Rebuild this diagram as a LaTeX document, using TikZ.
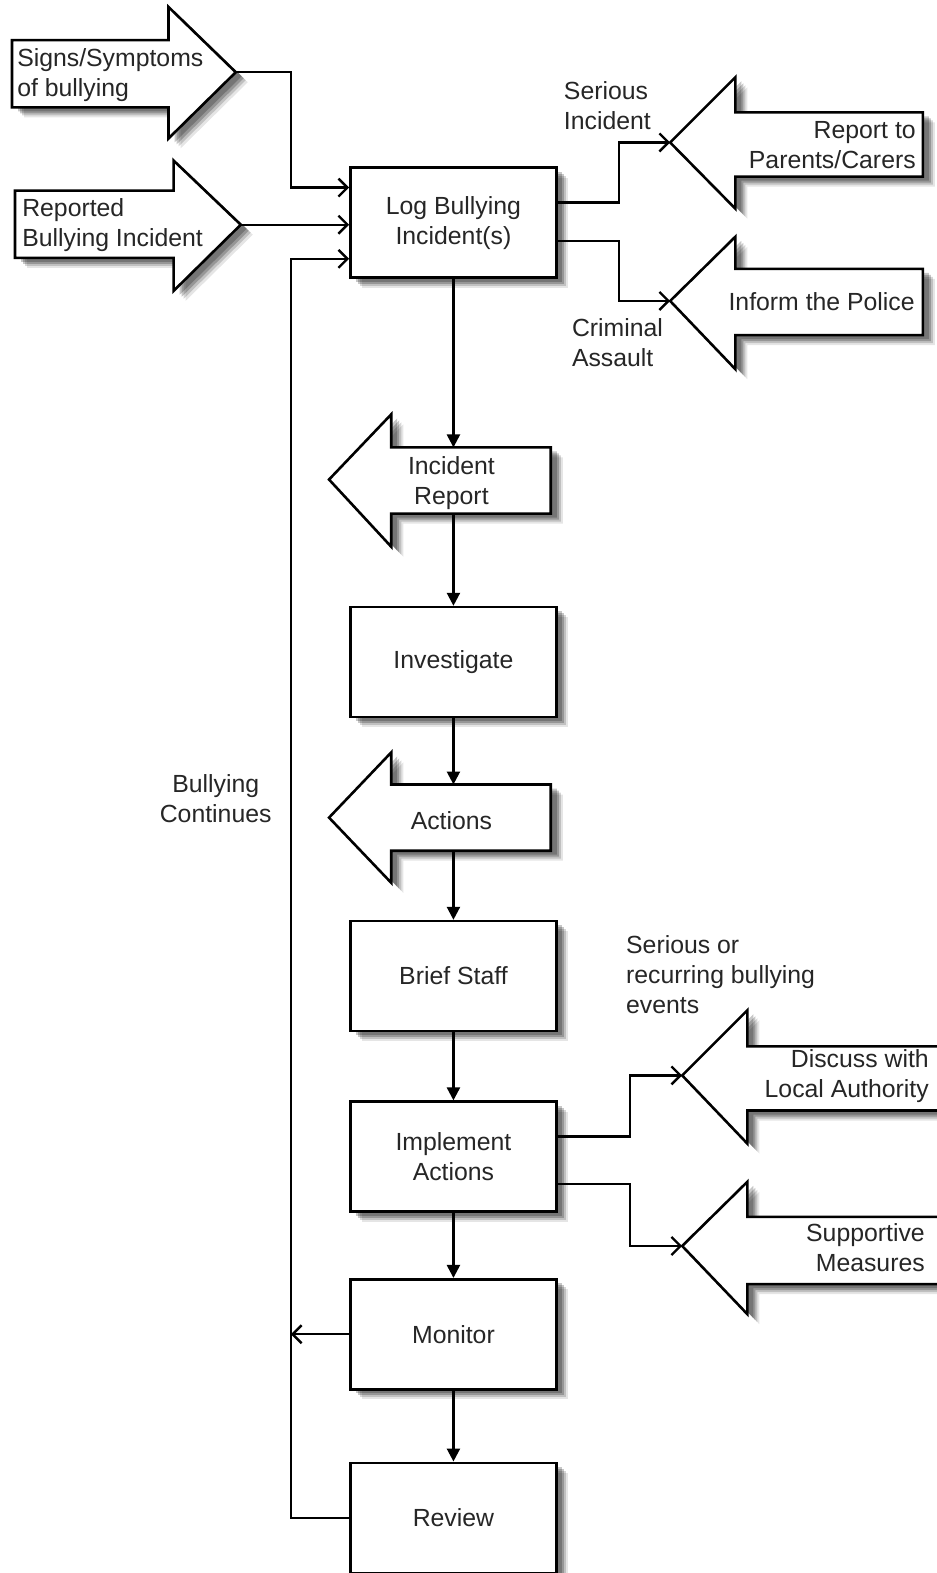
\documentclass[tikz,border=0pt]{standalone}
\usepackage{fontspec}
\setmainfont{Liberation Sans}
\usetikzlibrary{arrows.meta,shadows}
\definecolor{txt}{HTML}{262626}
\tikzset{
  shd/.style={drop shadow={shadow xshift=12pt,shadow yshift=-10pt,fill=black,opacity=0.10},
              drop shadow={shadow xshift=10pt,shadow yshift=-8pt,fill=black,opacity=0.16},
              drop shadow={shadow xshift=8pt,shadow yshift=-6pt,fill=black,opacity=0.22},
              drop shadow={shadow xshift=6pt,shadow yshift=-4pt,fill=black,opacity=0.22}},
  blk/.style={draw=black,line width=2.6pt,fill=white,line join=miter,shd},
  box/.style={draw=black,line width=2.6pt,fill=white,minimum width=206pt,minimum height=110pt,
              shd,align=center,text=txt,font=\fontsize{24.8}{30}\selectfont},
  lbl/.style={text=txt,font=\fontsize{24.8}{30}\selectfont,inner sep=0pt},
  conn/.style={line width=2.4pt,draw=black},
  barb/.style={conn,-{Straight Barb[length=9pt,width=18pt,line width=2.4pt]}},
  tri/.style={conn,-{Triangle[length=13pt,width=13pt]}}
}
\newcommand\leftblock[9]{%
  \draw[blk] (#2,#3) -- (#4,#5) -- (#4,#7) -- (#9,#7) -- (#9,#8) -- (#4,#8) -- (#4,#6) -- cycle;
  \coordinate (#1tip) at (#2,#3);
  \coordinate (#1top) at (#4,#7);
  \coordinate (#1bot) at (#4,#8);}
\begin{document}
\begin{tikzpicture}[x=1.003pt,y=-1.003pt]
\useasboundingbox (0,0) rectangle (934,1568);
% right-pointing input arrows
\draw[blk] (12,40) -- (168,40) -- (168,7) -- (235,72) -- (168,138) -- (168,107) -- (12,107) -- cycle;
\coordinate (sigtip) at (235,72);
\node[lbl,anchor=west,align=left] (sig) at (17,75) {Signs/Symptoms\\of bullying};
\draw[blk] (15,190) -- (173,190) -- (173,160) -- (240,224) -- (173,290) -- (173,257) -- (15,257) -- cycle;
\coordinate (reptip) at (240,224);
\node[lbl,anchor=west,align=left] (rep) at (22,224) {Reported\\Bullying Incident};
% left-pointing arrows
\leftblock{par}{668}{142}{733}{77}{208}{112}{176}{920}
\node[lbl,anchor=east,align=right] (part) at (913,145) {Report to\\Parents/Carers};
\leftblock{pol}{668}{300}{733}{236}{368}{268}{334}{920}
\node[lbl,anchor=east,align=right] (polt) at (912,301) {Inform the Police};
\leftblock{ir}{328}{478}{390}{413}{545}{446}{512}{549}
\node[lbl,align=center] (irt) at (450,482) {Incident\\Report};
\leftblock{act}{328}{815}{390}{750}{880}{782}{848}{549}
\node[lbl] (actt) at (450,818) {Actions};
\leftblock{dis}{680}{1072}{745}{1007}{1140}{1043}{1107}{945}
\node[lbl,anchor=east,align=right] (dist) at (926,1073) {Discuss with\\Local Authority};
\leftblock{sup}{680}{1242}{745}{1178}{1310}{1213}{1280}{945}
\node[lbl,anchor=east,align=right] (supt) at (922,1244) {Supportive\\Measures};
% process boxes
\node[box] (log) at (452,222) {Log Bullying\\Incident(s)};
\node[box] (inv) at (452,660) {Investigate};
\node[box] (brief) at (452,973) {Brief Staff};
\node[box] (impl) at (452,1153) {Implement\\Actions};
\node[box] (mon) at (452,1330) {Monitor};
\node[box] (rev) at (452,1513) {Review};
\coordinate (loopx) at (290,0);
\coordinate (brx) at (617,0);
\coordinate (brx2) at (628,0);
% labels
\node[lbl,anchor=west,align=left] (si) at (562,105) {Serious\\Incident};
\node[lbl,anchor=west,align=left] (ca) at (570,342) {Criminal\\Assault};
\node[lbl,align=center] (bc) at (215,796) {Bullying\\Continues};
\node[lbl,anchor=west,align=left] (sr) at (624,972) {Serious or\\recurring bullying\\events};
% input connectors
\draw[barb] (sigtip) -- (sigtip -| loopx) -- (loopx |- 0,187) -- (log.west |- 0,187);
\draw[barb] (reptip) -- (log.west |- reptip);
\draw[barb] (rev.west) -- (rev.west -| loopx) -- (loopx |- 0,258) -- (log.west |- 0,258);
\draw[barb] (mon.west) -- (mon.west -| loopx);
% log outputs
\draw[barb] (log.east |- 0,202) -- (brx |- 0,202) -- (brx |- partip) -- (partip);
\draw[barb] (log.east |- 0,240) -- (brx |- 0,240) -- (brx |- poltip) -- (poltip);
% implement outputs
\draw[barb] (impl.east |- 0,1133) -- (brx2 |- 0,1133) -- (brx2 |- distip) -- (distip);
\draw[barb] (impl.east |- 0,1180) -- (brx2 |- 0,1180) -- (brx2 |- suptip) -- (suptip);
% main flow
\draw[tri] (log.south) -- (log.south |- irtop);
\draw[tri] (inv.north |- irbot) -- (inv.north);
\draw[tri] (inv.south) -- (inv.south |- acttop);
\draw[tri] (brief.north |- actbot) -- (brief.north);
\draw[tri] (brief.south) -- (impl.north);
\draw[tri] (impl.south) -- (mon.north);
\draw[tri] (mon.south) -- (rev.north);
\end{tikzpicture}
\end{document}
